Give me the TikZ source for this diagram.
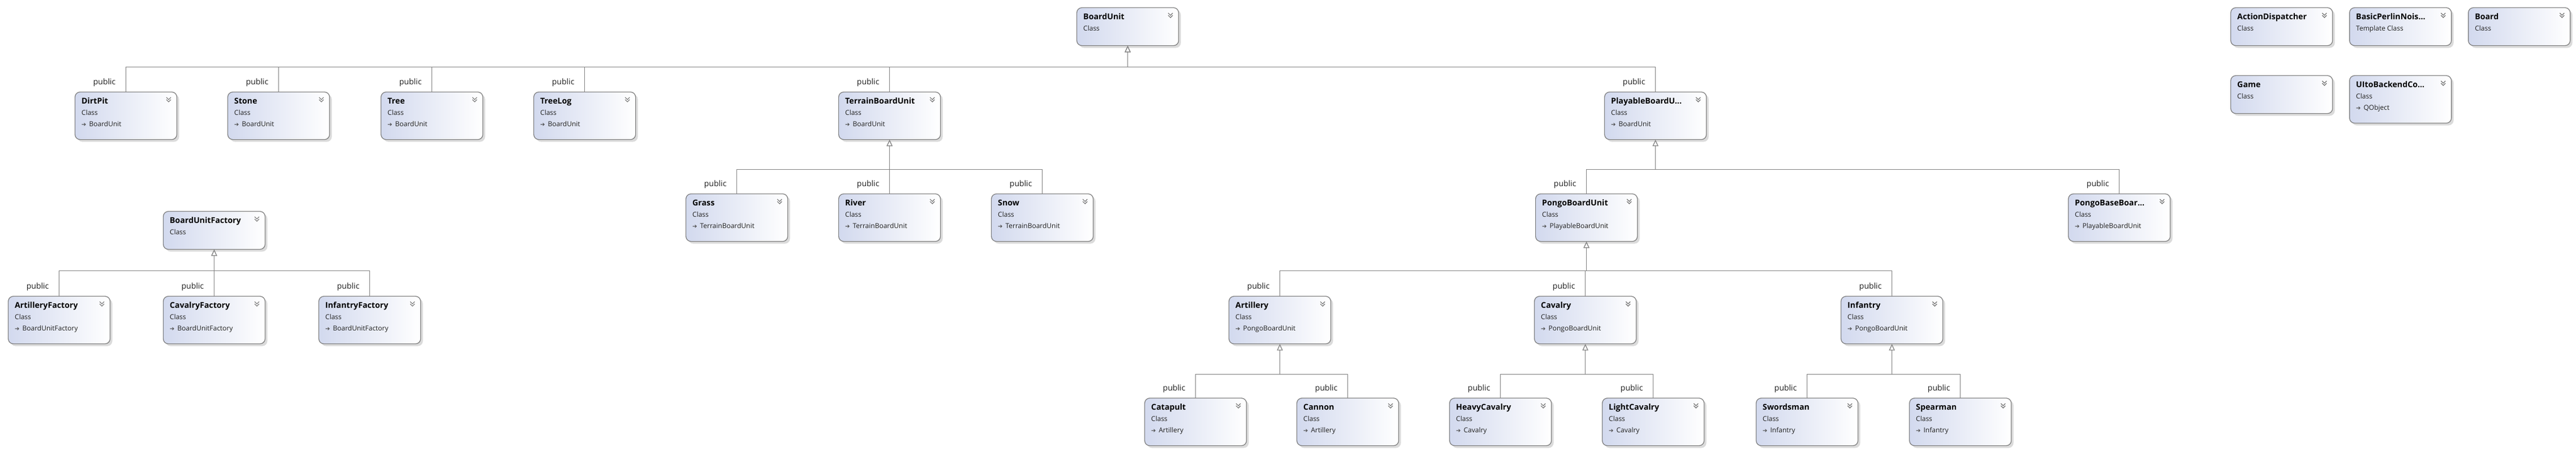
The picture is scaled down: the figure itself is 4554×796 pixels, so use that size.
\documentclass[tikz,border=0pt]{standalone}
\usepackage{fontspec}
\setmainfont{Open Sans}
\newfontfamily\symfont{DejaVu Sans}
\usetikzlibrary{arrows.meta,shadows,calc}
\definecolor{boxblue}{HTML}{D2D9EE}
\definecolor{boxline}{HTML}{7A7A7A}
\definecolor{conncol}{HTML}{808080}
\tikzset{
 box/.style={draw=boxline, line width=1.2pt, rounded corners=9pt, left color=boxblue, right color=white,
   anchor=north west, minimum width=180pt, inner sep=0pt,
   general shadow={fill=black!14, shadow xshift=4pt, shadow yshift=-4pt}},
 ttl/.style={anchor=base west, inner sep=0pt, font=\fontsize{14.2}{16}\selectfont\bfseries},
 sub/.style={anchor=base west, inner sep=0pt, font=\fontsize{12}{14}\selectfont, text=black!88},
 lbl/.style={anchor=base east, inner sep=0pt, font=\fontsize{14}{16}\selectfont, text=black!88},
 chev/.style={draw=black!55, line width=1.1pt},
 inh/.style={draw=conncol, line width=1.1pt, -{Triangle[open, length=11pt, width=10pt, fill=white]}},
}
\newcommand\arrowglyph{{\symfont\fontsize{10}{10}\selectfont\textcolor{black!70}{➔}}\hspace{5pt}}
\newcommand\chevrons[1]{%
 \draw[chev] ([xshift=-19pt,yshift=-10pt]#1.north east) -- ++(4pt,-4pt) -- ++(4pt,4pt)
             ([xshift=-19pt,yshift=-14pt]#1.north east) -- ++(4pt,-4pt) -- ++(4pt,4pt);}
% name, left, top, title, kind
\newcommand\clsboxA[5]{%
 \node[box, minimum height=67pt] (#1) at (#2,#3) {};
 \node[ttl] (#1-t) at ([xshift=12pt,yshift=-21pt]#1.north west) {#4};
 \node[sub] (#1-k) at ([xshift=12pt,yshift=-41pt]#1.north west) {#5};
 \chevrons{#1}}
% name, left, top, title, base
\newcommand\clsboxB[5]{%
 \node[box, minimum height=84pt] (#1) at (#2,#3) {};
 \node[ttl] (#1-t) at ([xshift=12pt,yshift=-21pt]#1.north west) {#4};
 \node[sub] (#1-k) at ([xshift=12pt,yshift=-41pt]#1.north west) {Class};
 \node[sub] (#1-b) at ([xshift=12pt,yshift=-61pt]#1.north west) {\arrowglyph #5};
 \chevrons{#1}}
% child, parent, bus offset
\newcommand\inhline[3]{%
 \draw[inh] (#1.north) |- ([yshift=-#3pt]#2.south) -- (#2.south);
 \node[lbl] (#1-p) at ([xshift=-18pt,yshift=13pt]#1.north) {public};}
\begin{document}
\begin{tikzpicture}[x=1pt,y=-1pt]
\useasboundingbox[fill=white] (0,0) rectangle (4554,796);
% top level
\clsboxA{boardunit}{1903}{13}{BoardUnit}{Class}
\clsboxA{ad}{3943}{13}{ActionDispatcher}{Class}
\clsboxA{perlin}{4153}{13}{BasicPerlinNois...}{Template Class}
\clsboxA{board}{4363}{13}{Board}{Class}
\clsboxA{game}{3943}{133}{Game}{Class}
\clsboxB{ui}{4153}{133}{UItoBackendCo...}{QObject}
% level 2
\clsboxB{dirtpit}{132}{162}{DirtPit}{BoardUnit}
\clsboxB{stone}{402}{162}{Stone}{BoardUnit}
\clsboxB{tree}{673}{162}{Tree}{BoardUnit}
\clsboxB{treelog}{943}{162}{TreeLog}{BoardUnit}
\clsboxB{terrain}{1482}{162}{TerrainBoardUnit}{BoardUnit}
\clsboxB{playable}{2836}{162}{PlayableBoardU...}{BoardUnit}
% level 3
\clsboxB{grass}{1212}{342}{Grass}{TerrainBoardUnit}
\clsboxB{river}{1482}{342}{River}{TerrainBoardUnit}
\clsboxB{snow}{1752}{342}{Snow}{TerrainBoardUnit}
\clsboxB{pongo}{2714}{342}{PongoBoardUnit}{PlayableBoardUnit}
\clsboxB{pongobase}{3656}{342}{PongoBaseBoar...}{PlayableBoardUnit}
% factories
\clsboxA{buf}{288}{373}{BoardUnitFactory}{Class}
\clsboxB{artf}{14}{523}{ArtilleryFactory}{BoardUnitFactory}
\clsboxB{cavf}{288}{523}{CavalryFactory}{BoardUnitFactory}
\clsboxB{inff}{563}{523}{InfantryFactory}{BoardUnitFactory}
% level 4
\clsboxB{artillery}{2172}{523}{Artillery}{PongoBoardUnit}
\clsboxB{cavalry}{2712}{523}{Cavalry}{PongoBoardUnit}
\clsboxB{infantry}{3254}{523}{Infantry}{PongoBoardUnit}
% level 5
\clsboxB{catapult}{2023}{703}{Catapult}{Artillery}
\clsboxB{cannon}{2292}{703}{Cannon}{Artillery}
\clsboxB{heavy}{2562}{703}{HeavyCavalry}{Cavalry}
\clsboxB{light}{2832}{703}{LightCavalry}{Cavalry}
\clsboxB{swords}{3104}{703}{Swordsman}{Infantry}
\clsboxB{spear}{3375}{703}{Spearman}{Infantry}
% inheritance
\inhline{dirtpit}{boardunit}{37}
\inhline{stone}{boardunit}{37}
\inhline{tree}{boardunit}{37}
\inhline{treelog}{boardunit}{37}
\inhline{terrain}{boardunit}{37}
\inhline{playable}{boardunit}{37}
\inhline{grass}{terrain}{52}
\inhline{river}{terrain}{52}
\inhline{snow}{terrain}{52}
\inhline{pongo}{playable}{52}
\inhline{pongobase}{playable}{52}
\inhline{artf}{buf}{37}
\inhline{cavf}{buf}{37}
\inhline{inff}{buf}{37}
\inhline{artillery}{pongo}{51}
\inhline{cavalry}{pongo}{51}
\inhline{infantry}{pongo}{51}
\inhline{catapult}{artillery}{53}
\inhline{cannon}{artillery}{53}
\inhline{heavy}{cavalry}{53}
\inhline{light}{cavalry}{53}
\inhline{swords}{infantry}{53}
\inhline{spear}{infantry}{53}
\end{tikzpicture}
\end{document}
